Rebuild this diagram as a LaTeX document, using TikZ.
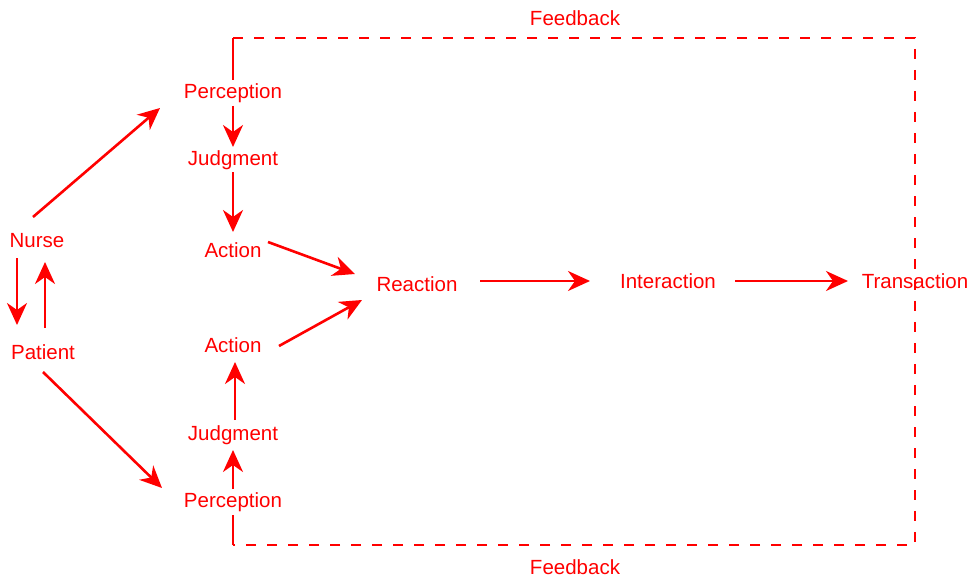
\documentclass[tikz,border=0pt]{standalone}
\usepackage{fontspec}
\setmainfont{Liberation Sans}
\usetikzlibrary{arrows.meta}
\definecolor{kingred}{RGB}{255,0,0}

\begin{document}
\begin{tikzpicture}[x=1pt,y=-1pt,>={Stealth[length=22pt,width=20pt,inset=7pt]},line width=2.6pt,color=kingred,
	concept/.style={font=\fontsize{20.5}{24}\selectfont,inner sep=2pt,fill=white},
	feedback/.style={dash pattern=on 10pt off 11pt}]

\useasboundingbox (0,0) rectangle (978,578);

\node[concept]   (nurse)   at (37,241)   {Nurse};
\node[concept]   (patient) at (43,352)   {Patient};
\node[concept]   (perc1)   at (233,93)   {Perception};
\node[concept]   (judg1)   at (233,160)  {Judgment};
\node[concept]   (act1)    at (233,250)  {Action};
\node[concept]   (act2)    at (233,345)  {Action};
\node[concept]   (judg2)   at (233,435)  {Judgment};
\node[concept]   (perc2)   at (233,502)  {Perception};
\node[concept]   (reac)    at (417,284)  {Reaction};
\node[concept]   (inter)   at (668,281)  {Interaction};
\node[concept,fill=none]   (trans)   at (915,281)  {Transaction};
\node[concept,inner sep=0pt]   (fbtop)   at (575,18)   {Feedback};
\node[concept,inner sep=0pt]   (fbbot)   at (575,567)  {Feedback};

% feedback loop
\coordinate (fbA) at (233,38);
\coordinate (fbB) at (915,38);
\coordinate (fbC) at (915,545);
\coordinate (fbD) at (233,545);
\draw[feedback] (fbA) -- (fbB) -- (fbC) -- (fbD);
\draw (fbA) -- (perc1.north);
\draw (fbD) -- (perc2.south);

\path[->] ([shift={(-20,17)}]nurse.center)  edge ([shift={(-26,-27)}]patient.center)
          ([shift={(2,-24)}]patient.center) edge ([shift={(8,21)}]nurse.center)
          ([shift={(-4,-24)}]nurse.center)  edge ([shift={(-73,15)}]perc1.center)
          ([shift={(0,20)}]patient.center)  edge ([shift={(-71,-14)}]perc2.center)

          (perc1.south)                     edge ([shift={(0,-13)}]judg1.center)
          ([shift={(0,12)}]judg1.center)    edge ([shift={(0,-18)}]act1.center)
          ([shift={(35,-8)}]act1.center)    edge ([shift={(-62,-10)}]reac.center)

          (perc2.north)                     edge ([shift={(0,15)}]judg2.center)
          ([shift={(2,-15)}]judg2.center)   edge ([shift={(2,17)}]act2.center)
          ([shift={(46,1)}]act2.center)     edge ([shift={(-55,16)}]reac.center)

          ([shift={(63,-3)}]reac.center)    edge ([shift={(-78,0)}]inter.center)
          ([shift={(67,0)}]inter.center)    edge ([shift={(-67,0)}]trans.center);

\end{tikzpicture}
\end{document}
